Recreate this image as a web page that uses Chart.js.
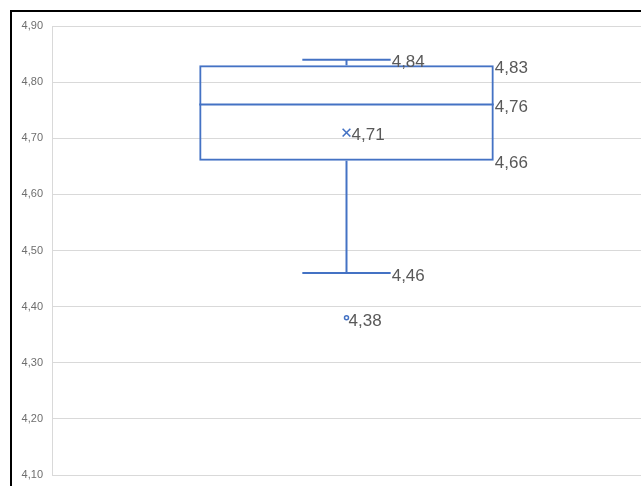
<!DOCTYPE html>
<html>
<head>
<meta charset="utf-8">
<script src="https://cdn.jsdelivr.net/npm/chart.js@4.4.1/dist/chart.umd.min.js"></script>
<style>
  html, body { margin: 0; padding: 0; background: #fff; }
  #wrap { position: relative; width: 641px; height: 486px; overflow: hidden; }
  #chart { position: absolute; left: 0; top: 0; }
  #frame { position: absolute; left: 10px; top: 10px; width: 700px; height: 600px;
           border-left: 2px solid #000; border-top: 2px solid #000; pointer-events: none; }
</style>
</head>
<body>
<div id="wrap">
  <canvas id="chart" width="641" height="486"></canvas>
  <div id="frame"></div>
</div>
<script>
// Box-and-whisker summary for one series
const categories    = ['1'];
const minValues     = [4.46];
const q1Values      = [4.66];
const medianValues  = [4.76];
const q3Values      = [4.83];
const maxValues     = [4.84];
const meanValues    = [4.71];
const outlierValues = [4.38];
const tickValues    = [4.10, 4.20, 4.30, 4.40, 4.50, 4.60, 4.70, 4.80, 4.90];

const BLUE = '#4472C4';
const LABEL_GREY = '#595959';
const fmt = v => v.toFixed(2).replace('.', ',');

// Whiskers, caps, median line and the value labels, positioned from the box element and y scale
const boxWhiskers = {
  id: 'boxWhiskers',
  afterDatasetsDraw(chart) {
    const ctx = chart.ctx;
    const y = chart.scales.y;
    const meta = chart.getDatasetMeta(0);
    meta.data.forEach((bar, i) => {
      const { x, width } = bar.getProps(['x', 'width'], true);
      const half = width / 2;
      const cap = width * 0.15;
      const yMin = y.getPixelForValue(minValues[i]);
      const yQ1 = y.getPixelForValue(q1Values[i]);
      const yMed = y.getPixelForValue(medianValues[i]);
      const yQ3 = y.getPixelForValue(q3Values[i]);
      const yMax = y.getPixelForValue(maxValues[i]);
      const yMean = y.getPixelForValue(meanValues[i]);
      const yOut = y.getPixelForValue(outlierValues[i]);

      ctx.save();
      ctx.strokeStyle = BLUE;
      ctx.lineWidth = 2;
      const seg = (x1, y1, x2, y2) => { ctx.beginPath(); ctx.moveTo(x1, y1); ctx.lineTo(x2, y2); ctx.stroke(); };
      seg(x - half, yMed, x + half, yMed);
      seg(x, yQ3, x, yMax);
      seg(x - cap, yMax, x + cap, yMax);
      seg(x, yQ1, x, yMin);
      seg(x - cap, yMin, x + cap, yMin);

      ctx.fillStyle = LABEL_GREY;
      ctx.font = '17px "Liberation Sans", Arial, sans-serif';
      ctx.textAlign = 'left';
      ctx.textBaseline = 'middle';
      const dy = 3;
      ctx.fillText(fmt(maxValues[i]), x + cap + 1, yMax + dy);
      ctx.fillText(fmt(q3Values[i]), x + half + 1, yQ3 + dy);
      ctx.fillText(fmt(medianValues[i]), x + half + 1, yMed + dy);
      ctx.fillText(fmt(q1Values[i]), x + half + 1, yQ1 + dy);
      ctx.fillText(fmt(minValues[i]), x + cap + 1, yMin + dy);
      ctx.fillText(fmt(meanValues[i]), x + 5, yMean + dy);
      ctx.fillText(fmt(outlierValues[i]), x + 2, yOut + dy);
      ctx.restore();
    });
  }
};

new Chart(document.getElementById('chart'), {
  data: {
    labels: categories,
    datasets: [
      {
        type: 'bar',
        data: q1Values.map((q1, i) => [q1, q3Values[i]]),
        backgroundColor: 'rgba(0,0,0,0)',
        borderColor: BLUE,
        borderWidth: 2,
        borderSkipped: false,
        barPercentage: 0.5,
        categoryPercentage: 1.0,
        order: 2
      },
      {
        type: 'line',
        data: meanValues,
        showLine: false,
        pointStyle: 'crossRot',
        pointRadius: 5.5,
        pointHoverRadius: 5.5,
        pointBorderColor: BLUE,
        pointBorderWidth: 1.6,
        order: 1
      },
      {
        type: 'line',
        data: outlierValues,
        showLine: false,
        pointStyle: 'circle',
        pointRadius: 2,
        pointHoverRadius: 2,
        pointBackgroundColor: '#fff',
        pointBorderColor: BLUE,
        pointBorderWidth: 1.5,
        order: 1
      }
    ]
  },
  options: {
    responsive: false,
    animation: false,
    layout: { autoPadding: false, padding: { top: 26, bottom: 11, left: 0, right: 0 } },
    plugins: { legend: { display: false }, tooltip: { enabled: false } },
    scales: {
      x: { display: false, offset: true },
      y: {
        min: 4.10,
        max: 4.90,
        afterBuildTicks: s => { s.ticks = tickValues.map(v => ({ value: v })); },
        afterFit: s => { s.width = 52; s.paddingTop = 0; s.paddingBottom = 0; },
        grid: { color: '#d9d9d9', lineWidth: 1, drawTicks: false },
        border: { display: true, color: '#d9d9d9', width: 1 },
        ticks: {
          padding: 9,
          color: '#6e6e6e',
          font: { family: '"Liberation Sans", Arial, sans-serif', size: 11 },
          callback: v => fmt(v)
        }
      }
    }
  },
  plugins: [boxWhiskers]
});
</script>
</body>
</html>
